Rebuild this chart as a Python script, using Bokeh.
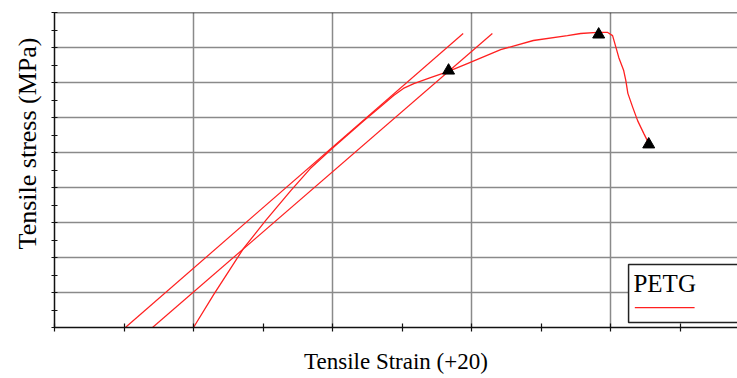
from bokeh.plotting import figure
from bokeh.models import FixedTicker, BoxAnnotation, Span, Title, Label, CustomJSTickFormatter
from bokeh.embed import file_html
from bokeh.resources import INLINE

# Data (strain in minor-tick units, stress in grid units)
strain = [2.00, 2.29, 2.72, 3.04, 3.40, 3.68, 3.99, 4.45, 4.69, 4.88, 5.02, 5.17,
          5.41, 5.66, 5.94, 6.42, 6.89, 7.38, 7.57, 7.81, 7.96, 8.03, 8.07, 8.12,
          8.19, 8.22, 8.25, 8.32, 8.39, 8.48, 8.55]
stress = [0.00, 0.94, 2.26, 3.06, 3.91, 4.54, 5.11, 5.91, 6.31, 6.63, 6.83, 6.97,
          7.14, 7.31, 7.54, 7.94, 8.20, 8.34, 8.40, 8.43, 8.43, 8.34, 8.06, 7.71,
          7.34, 7.06, 6.69, 6.29, 5.91, 5.54, 5.26]
offset1_x = [1.02, 5.88]
offset1_y = [0.0, 8.4]
offset2_x = [1.41, 6.30]
offset2_y = [0.0, 8.4]
marker_x = [5.67, 7.83, 8.55]
marker_y = [7.34, 8.37, 5.23]
x_ticks = [0, 1, 2, 3, 4, 5, 6, 7, 8, 9]
x_grid = [2, 4, 6, 8]
y_ticks = [i * 0.5 for i in range(19)]
y_grid = [1, 2, 3, 4, 5, 6, 7, 8]
series_name = "PETG"
x_title = "Tensile Strain (+20)"
y_title = "Tensile stress (MPa)"

RED = "#ff2020"
SERIF = "Liberation Serif"

p = figure(width=737, height=378, output_backend="svg", toolbar_location=None,
           x_range=(0, 683 / 69.5), y_range=(0, 9),
           min_border_left=54, min_border_right=0, min_border_top=12, min_border_bottom=51)
p.outline_line_color = None
p.background_fill_color = "white"
p.border_fill_color = "white"

blank = CustomJSTickFormatter(code="return ''")
for ax in (p.xaxis[0], p.yaxis[0]):
    ax.formatter = blank
    ax.major_label_text_font_size = "1px"
    ax.major_label_standoff = 0
    ax.axis_line_color = "#111111"
    ax.axis_line_width = 1.5
    ax.major_tick_line_color = "#111111"
    ax.major_tick_line_width = 1.2
    ax.minor_tick_line_color = None
    ax.major_tick_in = 4
    ax.major_tick_out = 4
p.yaxis[0].major_tick_in = 3
p.yaxis[0].major_tick_out = 3
p.xaxis.ticker = FixedTicker(ticks=x_ticks)
p.yaxis.ticker = FixedTicker(ticks=y_ticks)
p.xgrid.ticker = FixedTicker(ticks=x_grid)
p.ygrid.ticker = FixedTicker(ticks=y_grid)
for g in (p.xgrid[0], p.ygrid[0]):
    g.grid_line_color = "#8a8a8a"
    g.grid_line_width = 1.5

p.xaxis.axis_label = x_title
p.xaxis.axis_label_text_font = SERIF
p.xaxis.axis_label_text_font_size = "23px"
p.xaxis.axis_label_text_font_style = "normal"
p.xaxis.axis_label_text_color = "black"
p.xaxis.axis_label_standoff = 17

p.add_layout(Title(text=y_title, align="right", offset=25, standoff=20, text_font=SERIF,
                   text_font_size="26px", text_font_style="normal", text_color="black"), "left")

p.add_layout(Span(location=9, dimension="width", line_color="#111111", line_width=1.5))

p.line(offset1_x, offset1_y, line_color=RED, line_width=1.2)
p.line(offset2_x, offset2_y, line_color=RED, line_width=1.2)
p.line(strain, stress, line_color=RED, line_width=1.3)
p.scatter(marker_x, marker_y, marker="triangle", size=12, fill_color="black", line_color="black")

# Legend box
p.add_layout(BoxAnnotation(left=8.26, right=10.5, bottom=0.14, top=1.80, level="underlay",
                           fill_color="white", fill_alpha=1.0,
                           line_color="#222222", line_alpha=1.0, line_width=1.5))
p.add_layout(Label(x=8.33, y=1.26, text=series_name, text_font=SERIF,
                   text_font_size="25px", text_baseline="middle", text_color="black"))
p.line([8.35, 9.21], [0.57, 0.57], line_color=RED, line_width=1.3)

open("out.html", "w").write(file_html(p, INLINE))
